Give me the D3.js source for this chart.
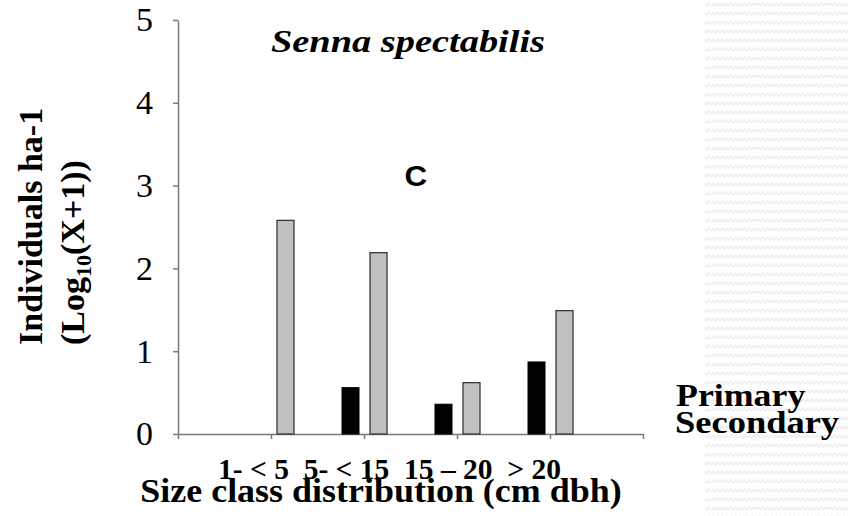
<!DOCTYPE html>
<html>
<head>
<meta charset="utf-8">
<script src="https://cdn.jsdelivr.net/npm/d3@7"></script>
<style>
  body { margin: 0; background: #fff; }
  svg { display: block; }
</style>
</head>
<body>
<div id="chart"></div>
<script>
// data
var categories = ["1- < 5", "5- < 15", "15 – 20", "> 20"];
var primary = [0, 0.56, 0.36, 0.87];
var secondary = [2.58, 2.19, 0.62, 1.49];
var yTicks = [0, 1, 2, 3, 4, 5];
var seriesNames = ["Primary", "Secondary"];

var W = 848, H = 516;
var serif = "'Liberation Serif', 'Times New Roman', Times, serif";

var svg = d3.select("#chart")
  .append("svg")
  .attr("width", W)
  .attr("height", H);

// faint zig-zag texture on the right edge
var defs = svg.append("defs");
var pat = defs.append("pattern")
  .attr("id", "zig")
  .attr("patternUnits", "userSpaceOnUse")
  .attr("width", 9)
  .attr("height", 9);
pat.append("path")
  .attr("d", "M0,6 L2.25,3 L4.5,6 L6.75,3 L9,6")
  .attr("fill", "none")
  .attr("stroke", "#efefef")
  .attr("stroke-width", 1.6);

svg.append("rect")
  .attr("x", 705)
  .attr("y", 0)
  .attr("width", W - 705)
  .attr("height", H)
  .attr("fill", "url(#zig)");

// scales: 5 category slots, groups sit on the inner slot boundaries
var x = d3.scaleLinear().domain([0, 5]).range([178, 643]);
var y = d3.scaleLinear().domain([0, 5]).range([434, 20]);

var axisColor = "#7a7a7a";

// y axis
var yAxis = svg.append("g")
  .attr("transform", "translate(" + x(0) + ",0)")
  .call(d3.axisLeft(y).tickValues(yTicks).tickFormat(d3.format("d"))
    .tickSize(5).tickSizeOuter(0).tickPadding(20));
yAxis.select(".domain").attr("stroke", axisColor).attr("stroke-width", 1.5);
yAxis.selectAll(".tick line").attr("stroke", axisColor).attr("stroke-width", 1.5);
yAxis.selectAll(".tick text")
  .style("font-family", serif)
  .style("font-size", "34px")
  .attr("fill", "#000");

// x axis
var xAxis = svg.append("g")
  .attr("transform", "translate(0," + y(0) + ")")
  .call(d3.axisBottom(x).tickValues([0, 1, 2, 3, 4, 5]).tickSize(5).tickSizeOuter(0).tickFormat(""));
xAxis.select(".domain").attr("stroke", axisColor).attr("stroke-width", 1.5);
xAxis.selectAll(".tick line").attr("stroke", axisColor).attr("stroke-width", 1.5);

// bars
var barW = 17;
svg.selectAll("rect.primary")
  .data(primary)
  .enter()
  .append("rect")
  .attr("class", "primary")
  .attr("x", function(d, i) { return x(i + 1) - 22; })
  .attr("y", function(d) { return y(d); })
  .attr("width", barW)
  .attr("height", function(d) { return y(0) - y(d); })
  .attr("fill", "#000")
  .attr("stroke", "#000")
  .attr("stroke-width", 1);

svg.selectAll("rect.secondary")
  .data(secondary)
  .enter()
  .append("rect")
  .attr("class", "secondary")
  .attr("x", function(d, i) { return x(i + 1) + 6; })
  .attr("y", function(d) { return y(d); })
  .attr("width", barW)
  .attr("height", function(d) { return y(0) - y(d); })
  .attr("fill", "#c0c0c0")
  .attr("stroke", "#3a3a3a")
  .attr("stroke-width", 1.3);

// helper for text that is a bit wider than the font
function label(px, py, txt, size, sx, opts) {
  opts = opts || {};
  var g = svg.append("g")
    .attr("transform", "translate(" + px + "," + py + ") scale(" + sx + ",1)");
  return g.append("text")
    .attr("text-anchor", opts.anchor || "start")
    .style("font-family", opts.family || serif)
    .style("font-size", size + "px")
    .style("font-weight", opts.weight || "bold")
    .style("font-style", opts.style || "normal")
    .attr("fill", "#000")
    .text(txt);
}

// category labels, flowed as one line like the original
svg.append("text")
  .attr("x", x(1) - 53)
  .attr("y", 479)
  .attr("xml:space", "preserve")
  .style("white-space", "pre")
  .style("font-family", serif)
  .style("font-size", "29.5px")
  .style("font-weight", "bold")
  .text(categories.join("  "));

// axis titles
label(381, 502, "Size class distribution (cm dbh)", 33, 1.09, { anchor: "middle" });

svg.append("g").attr("transform", "translate(42,345) rotate(-90)")
  .append("text")
  .style("font-family", serif)
  .style("font-size", "34px")
  .style("font-weight", "bold")
  .text("Individuals ha-1");
var yt2 = svg.append("g").attr("transform", "translate(84,345) rotate(-90)")
  .append("text")
  .style("font-family", serif)
  .style("font-size", "34px")
  .style("font-weight", "bold");
yt2.append("tspan").text("(Log");
yt2.append("tspan").attr("dy", 7).style("font-size", "22px").text("10");
yt2.append("tspan").attr("dy", -7).text("(X+1))");

// species title and panel letter
label(408, 52, "Senna spectabilis", 32, 1.2, { anchor: "middle", style: "italic" });
label(416, 186, "C", 30, 1.05, { anchor: "middle", family: "'Liberation Sans', Arial, sans-serif" });

// legend text (no swatches in the original)
label(676, 406, seriesNames[0], 32, 1.12);
label(675, 433, seriesNames[1], 32, 1.14);
</script>
</body>
</html>
